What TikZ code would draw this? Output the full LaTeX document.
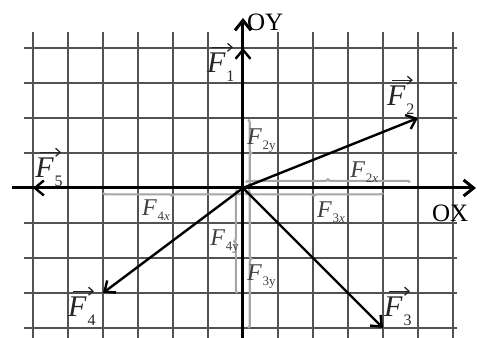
\documentclass[tikz,border=0pt]{standalone}
\usepackage{fontspec}
\setmainfont{Liberation Serif}
\usetikzlibrary{arrows.meta,decorations.pathreplacing}
\newcommand\VF[1]{{\itshape F}\kern1pt\raisebox{-9pt}{\fontsize{16}{16}\selectfont #1}}
\newcommand\CF[1]{{\itshape F}\kern1pt\raisebox{-5pt}{\fontsize{13}{13}\selectfont #1}}
\begin{document}
\begin{tikzpicture}[x=35pt,y=35pt,
  gridline/.style={draw=black!68,line width=1.2pt},
  axis/.style={line width=3pt,-{Straight Barb[length=10pt,width=16pt]}},
  vec/.style={line width=2.4pt,-{Straight Barb[length=9pt,width=15pt]}},
  overarrow/.style={draw=black!85,line width=1.3pt,-{Straight Barb[length=4.5pt,width=8pt]}},
  comp/.style={draw=black!35,line width=2.2pt,decorate,decoration={brace,amplitude=3pt}},
  vlab/.style={inner sep=0pt,anchor=base west,font=\fontsize{30}{32}\selectfont,text=black!85},
  clab/.style={inner sep=0pt,anchor=base west,font=\fontsize{24}{26}\selectfont,text=black!75},
  axlab/.style={inner sep=0pt,anchor=base west,font=\fontsize{25}{27}\selectfont}]
\useasboundingbox (-6.943,-4.286) rectangle (6.686,5.371);
% grid
\foreach \i in {-6,...,6} \draw[gridline] (\i,-4.286) -- (\i,4.457);
\foreach \j in {-4,...,4} \draw[gridline] (-6.257,\j) -- (6.114,\j);
% coordinates
\coordinate (O) at (0,0);
\coordinate (xl) at (-6.6,0);
\coordinate (xr) at (6.657,0);
\coordinate (yb) at (0,-4.286);
\coordinate (yt) at (0,4.857);
\coordinate (f1) at (0,4);
\coordinate (f2) at (5,2);
\coordinate (f3) at (4,-4);
\coordinate (f4) at (-4,-3);
\coordinate (f5) at (-6,0);
% component braces
\coordinate (b2xa) at (0.08,0.16); \coordinate (b2xb) at (4.77,0.16);
\coordinate (b3xa) at (4,-0.14);   \coordinate (b3xb) at (0.05,-0.14);
\coordinate (b4xa) at (-0.05,-0.14); \coordinate (b4xb) at (-4,-0.14);
\coordinate (b2ya) at (0.15,1.95); \coordinate (b2yb) at (0.15,0.05);
\coordinate (b4ya) at (-0.16,-3);  \coordinate (b4yb) at (-0.16,-0.05);
\coordinate (b3ya) at (0.15,-0.05); \coordinate (b3yb) at (0.15,-4);
\draw[comp] (b2xa) -- (b2xb);
\draw[comp] (b3xa) -- (b3xb);
\draw[comp] (b4xa) -- (b4xb);
\draw[comp] (b2ya) -- (b2yb);
\draw[comp] (b4ya) -- (b4yb);
\draw[comp] (b3ya) -- (b3yb);
% axes
\draw[axis] (xl) -- (xr);
\draw[axis] (yb) -- (yt);
% vectors
\draw[vec] (O) -- (f1);
\draw[vec] (O) -- (f2);
\draw[vec] (O) -- (f3);
\draw[vec] (O) -- (f4);
\draw[vec] (O) -- (f5);
% labels
\node[axlab] (oy) at (0.11,4.49) {OY};
\node[axlab] (ox) at (5.4,-0.97) {OX};
\node[vlab] (l1) at (-1.03,3.31) {\VF{1}};
\node[vlab] (l2) at (4.11,2.37) {\VF{2}};
\node[vlab] (l3) at (4.03,-3.66) {\VF{3}};
\node[vlab] (l4) at (-5.0,-3.66) {\VF{4}};
\node[vlab] (l5) at (-5.94,0.31) {\VF{5}};
\foreach \l in {l1,l2,l3,l4,l5}
  \draw[overarrow] ([xshift=5pt,yshift=5pt]\l.north west) -- ([xshift=26pt,yshift=5pt]\l.north west);
\node[clab] (c2y) at (0.11,1.23) {\CF{2y}};
\node[clab] (c2x) at (3.06,0.31) {\CF{2\textit{x}}};
\node[clab] (c3x) at (2.11,-0.83) {\CF{3\textit{x}}};
\node[clab] (c4x) at (-2.89,-0.8) {\CF{4\textit{x}}};
\node[clab] (c4y) at (-0.94,-1.63) {\CF{4y}};
\node[clab] (c3y) at (0.11,-2.63) {\CF{3y}};
\end{tikzpicture}
\end{document}
